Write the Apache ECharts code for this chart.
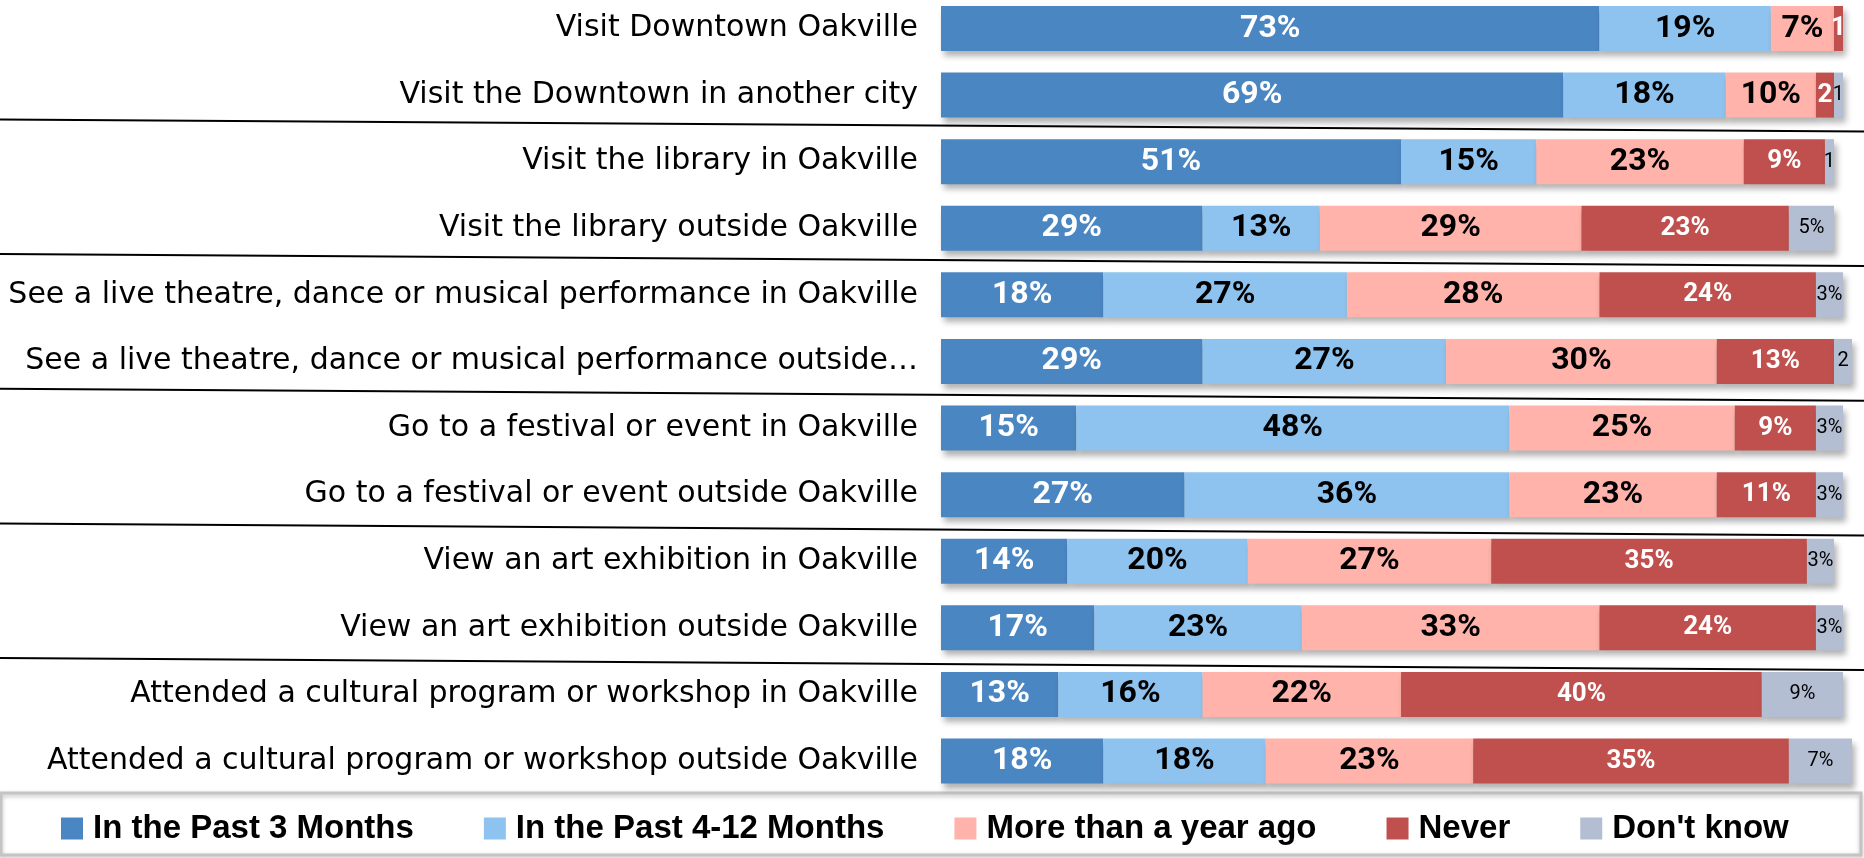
<!DOCTYPE html>
<html>
<head>
<meta charset="utf-8">
<script src="https://cdn.jsdelivr.net/npm/echarts@6/dist/echarts.min.js"></script>
<style>
  html, body { margin: 0; padding: 0; background: #fff; }
  #chart { width: 1864px; height: 858px; }
</style>
</head>
<body>
<div id="chart"></div>
<script>
var categories = [
  "Visit Downtown Oakville",
  "Visit the Downtown in another city",
  "Visit the library in Oakville",
  "Visit the library outside Oakville",
  "See a live theatre, dance or musical performance in Oakville",
  "See a live theatre, dance or musical performance outside\u2026",
  "Go to a festival or event in Oakville",
  "Go to a festival or event outside Oakville",
  "View an art exhibition in Oakville",
  "View an art exhibition outside Oakville",
  "Attended a cultural program or workshop in Oakville",
  "Attended a cultural program or workshop outside Oakville"
];
var seriesNames = ["In the Past 3 Months", "In the Past 4-12 Months", "More than a year ago", "Never", "Don't know"];
var past3 = [73, 69, 51, 29, 18, 29, 15, 27, 14, 17, 13, 18];
var past4to12 = [19, 18, 15, 13, 27, 27, 48, 36, 20, 23, 16, 18];
var overYear = [7, 10, 23, 29, 28, 30, 25, 23, 27, 33, 22, 23];
var never = [1, 2, 9, 23, 24, 13, 9, 11, 35, 24, 40, 35];
var dontKnow = [0, 1, 1, 5, 3, 2, 3, 3, 3, 3, 9, 7];
var colors = ["#4a86c2", "#8ec3ef", "#ffb3aa", "#c0504d", "#b3bed2"];

var chart = echarts.init(document.getElementById("chart"));

// label: small values shown without %
function pct(p) {
  if (!p.value) return "";
  return p.value <= 2 ? String(p.value) : p.value + "%";
}

var labelStyles = [
  { color: "#fff", fontWeight: "bold", fontSize: 32 },
  { color: "#000", fontWeight: "bold", fontSize: 32 },
  { color: "#000", fontWeight: "bold", fontSize: 32 },
  { color: "#fff", fontWeight: "bold", fontSize: 26 },
  { color: "#000", fontWeight: "normal", fontSize: 20 }
];

var allData = [past3, past4to12, overYear, never, dontKnow];
var series = allData.map(function (d, i) {
  return {
    name: seriesNames[i],
    type: "bar",
    stack: "total",
    barWidth: 45,
    clip: false,
    itemStyle: {
      color: colors[i],
      shadowBlur: 6,
      shadowOffsetX: 3,
      shadowOffsetY: 5,
      shadowColor: "rgba(0,0,0,0.3)"
    },
    label: {
      show: true,
      position: "inside",
      fontFamily: "Roboto",
      color: labelStyles[i].color,
      fontWeight: labelStyles[i].fontWeight,
      fontSize: labelStyles[i].fontSize,
      formatter: pct
    },
    data: d
  };
});

var option = {
  animation: false,
  backgroundColor: "#fff",
  grid: {
    left: 941,
    right: 21,
    top: 28.5,
    bottom: 97
  },
  xAxis: {
    type: "value",
    min: 0,
    max: 100,
    show: false
  },
  yAxis: {
    type: "category",
    inverse: true,
    boundaryGap: false,
    data: categories,
    axisLine: { show: false },
    axisTick: { show: false },
    splitLine: { show: false },
    axisLabel: {
      margin: 23,
      color: "#000",
      fontFamily: "DejaVu Sans",
      fontSize: 30
    }
  },
  legend: {
    data: seriesNames,
    left: 56,
    top: 807,
    itemWidth: 22,
    itemHeight: 22,
    itemGap: 70,
    icon: "rect",
    textStyle: {
      fontFamily: "Liberation Sans",
      fontWeight: "bold",
      fontSize: 33,
      color: "#000",
      padding: [0, 0, 0, 5]
    }
  },
  graphic: [
    {
      type: "rect",
      shape: { x: 1, y: 793, width: 1860, height: 62 },
      style: {
        fill: "rgba(0,0,0,0)",
        stroke: "#c4c4c4",
        lineWidth: 3,
        shadowBlur: 4,
        shadowOffsetY: 2,
        shadowColor: "rgba(0,0,0,0.25)"
      },
      z: -1
    }
  ],
  series: series
};
chart.setOption(option);

// group separators between every two rows, drawn with a slight slope
var seps = [];
[2, 4, 6, 8, 10].forEach(function (k, j) {
  var mid = (chart.convertToPixel({ yAxisIndex: 0 }, k - 1) + chart.convertToPixel({ yAxisIndex: 0 }, k)) / 2;
  var y = mid - 9 + 1.5 * j;
  seps.push({
    type: "line",
    shape: { x1: 0, y1: y, x2: 1864, y2: y + 12 },
    style: { stroke: "#000", lineWidth: 2 },
    z: 10
  });
});
chart.setOption({ graphic: option.graphic.concat(seps) });
</script>
</body>
</html>
